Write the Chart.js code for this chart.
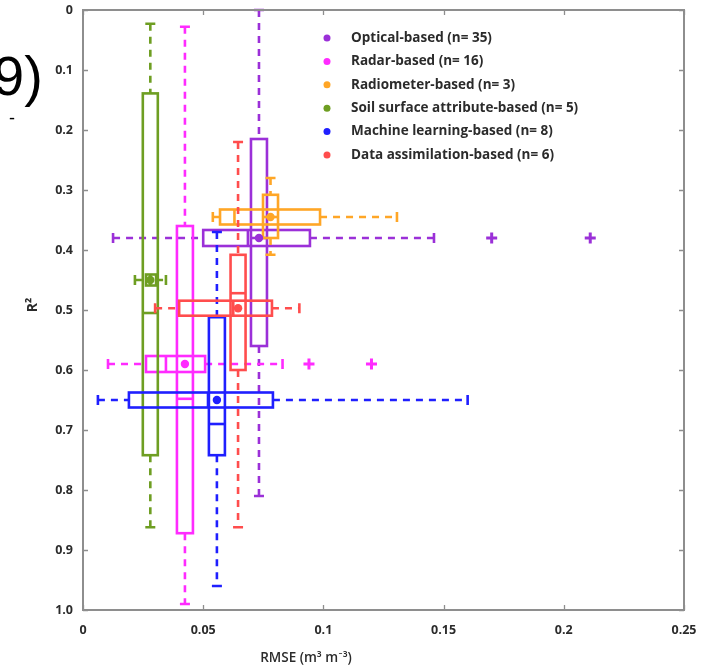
<!DOCTYPE html>
<html>
<head>
<meta charset="utf-8">
<script src="https://cdn.jsdelivr.net/npm/chart.js@4.4.1/dist/chart.umd.min.js"></script>
<style>
  html, body { margin: 0; padding: 0; background: #ffffff; }
  #wrap { position: relative; width: 703px; height: 670px; }
  canvas { display: block; }
</style>
</head>
<body>
<div id="wrap"><canvas id="c" width="703" height="670"></canvas></div>
<script>
// ---------- data ----------
const groups = [
  'Optical-based (n= 35)',
  'Radar-based (n= 16)',
  'Radiometer-based (n= 3)',
  'Soil surface attribute-based (n= 5)',
  'Machine learning-based (n= 8)',
  'Data assimilation-based (n= 6)'
];
// RMSE (m3 m-3) statistics per group
const rmseMin  = [0.0125, 0.0104, 0.054, 0.0216, 0.0062, 0.030];
const rmseQ1   = [0.050,  0.0262, 0.057, 0.0262, 0.0191, 0.040];
const rmseMed  = [0.0686, 0.0345, 0.063, 0.0280, 0.052,  0.0625];
const rmseQ3   = [0.0944, 0.0508, 0.0986,0.0304, 0.079,  0.0786];
const rmseMax  = [0.146,  0.083,  0.1306,0.0345, 0.160,  0.090];
const rmseMean = [0.0732, 0.0424, 0.078, 0.028,  0.0557, 0.0645];
// R2 statistics per group
const r2Min  = [0.000, 0.028, 0.280, 0.023, 0.370, 0.220];
const r2Q1   = [0.215, 0.360, 0.308, 0.139, 0.512, 0.408];
const r2Med  = [0.380, 0.648, 0.345, 0.505, 0.690, 0.472];
const r2Q3   = [0.560, 0.872, 0.380, 0.742, 0.742, 0.600];
const r2Max  = [0.810, 0.990, 0.408, 0.862, 0.960, 0.862];
const r2Mean = [0.380, 0.590, 0.345, 0.450, 0.650, 0.497];
// RMSE outliers per group
const rmseOutliers = [[0.170, 0.211], [0.094, 0.120], [], [], [], []];
// tick values and labels
const xTickValues = [0, 0.05, 0.1, 0.15, 0.2, 0.25];
const xTickLabels = ['0', '0.05', '0.1', '0.15', '0.2', '0.25'];
const yTickValues = [0, 0.1, 0.2, 0.3, 0.4, 0.5, 0.6, 0.7, 0.8, 0.9, 1.0];
const yTickLabels = ['0', '0.1', '0.2', '0.3', '0.4', '0.5', '0.6', '0.7', '0.8', '0.9', '1.0'];

// ---------- styles ----------
const colors = ['#9b30d8', '#ff2bff', '#ffa626', '#6e9e22', '#1f1fff', '#ff4d4d'];
const hBoxHalf = [8, 8, 7.5, 5.5, 7.5, 7.5];   // half height of horizontal boxes (px)
const vBoxHalf = [8, 8, 7.5, 7.5, 8, 7.5];     // half width of vertical boxes (px)
const TEXT = '#2b2b2b';
const AXIS = '#8e8e8e';
const FONT = '"Open Sans", Lato, sans-serif';

const labelFor = (vals, labels, v) => {
  let best = 0;
  vals.forEach((t, k) => { if (Math.abs(t - v) < Math.abs(vals[best] - v)) best = k; });
  return labels[best];
};

const datasets = [];
groups.forEach((g, i) => {
  datasets.push({
    label: g,
    data: [{ x: rmseMean[i], y: r2Mean[i] }],
    pointRadius: 4.2,
    pointBackgroundColor: colors[i],
    pointBorderColor: colors[i],
    pointBorderWidth: 0,
    showLine: false
  });
});
groups.forEach((g, i) => {
  if (!rmseOutliers[i].length) return;
  datasets.push({
    label: g + ' outliers',
    data: rmseOutliers[i].map(v => ({ x: v, y: r2Mean[i] })),
    pointStyle: 'cross',
    pointRadius: 5.5,
    pointBorderColor: colors[i],
    pointBorderWidth: 3,
    showLine: false
  });
});

const boxPlugin = {
  id: 'boxes2d',
  beforeDatasetsDraw(chart) {
    const { ctx, scales: { x, y } } = chart;
    const X = v => x.getPixelForValue(v);
    const Y = v => y.getPixelForValue(v);
    ctx.save();
    ctx.lineWidth = 2.6;
    ctx.lineCap = 'butt';
    groups.forEach((g, i) => {
      ctx.strokeStyle = colors[i];
      const xm = X(rmseMean[i]), ym = Y(r2Mean[i]);
      // dashed whiskers
      ctx.setLineDash([7, 6]);
      ctx.beginPath();
      ctx.moveTo(xm, Y(r2Min[i])); ctx.lineTo(xm, Y(r2Q1[i]));
      ctx.moveTo(xm, Y(r2Q3[i])); ctx.lineTo(xm, Y(r2Max[i]));
      ctx.moveTo(X(rmseMin[i]), ym); ctx.lineTo(X(rmseQ1[i]), ym);
      ctx.moveTo(X(rmseQ3[i]), ym); ctx.lineTo(X(rmseMax[i]), ym);
      ctx.stroke();
      ctx.setLineDash([]);
      // caps
      ctx.beginPath();
      ctx.moveTo(xm - 5, Y(r2Min[i])); ctx.lineTo(xm + 5, Y(r2Min[i]));
      ctx.moveTo(xm - 5, Y(r2Max[i])); ctx.lineTo(xm + 5, Y(r2Max[i]));
      ctx.moveTo(X(rmseMin[i]), ym - 5); ctx.lineTo(X(rmseMin[i]), ym + 5);
      ctx.moveTo(X(rmseMax[i]), ym - 5); ctx.lineTo(X(rmseMax[i]), ym + 5);
      ctx.stroke();
      // vertical box (R2 quartiles)
      const vw = vBoxHalf[i];
      ctx.strokeRect(xm - vw, Y(r2Q1[i]), 2 * vw, Y(r2Q3[i]) - Y(r2Q1[i]));
      ctx.beginPath();
      ctx.moveTo(xm - vw, Y(r2Med[i])); ctx.lineTo(xm + vw, Y(r2Med[i]));
      ctx.stroke();
      // horizontal box (RMSE quartiles)
      const hh = hBoxHalf[i];
      ctx.strokeRect(X(rmseQ1[i]), ym - hh, X(rmseQ3[i]) - X(rmseQ1[i]), 2 * hh);
      ctx.beginPath();
      ctx.moveTo(X(rmseMed[i]), ym - hh); ctx.lineTo(X(rmseMed[i]), ym + hh);
      ctx.stroke();
    });
    ctx.restore();
  },
  afterDraw(chart) {
    const { ctx, scales: { x, y }, chartArea: a } = chart;
    ctx.save();
    // frame
    ctx.strokeStyle = AXIS;
    ctx.lineWidth = 2;
    ctx.strokeRect(a.left, a.top, a.right - a.left, a.bottom - a.top);
    // inward ticks
    ctx.lineWidth = 1.3;
    ctx.beginPath();
    y.ticks.forEach(t => {
      const py = Math.round(y.getPixelForValue(t.value)) + 0.5;
      ctx.moveTo(a.left, py); ctx.lineTo(a.left + 5, py);
      ctx.moveTo(a.right, py); ctx.lineTo(a.right - 5, py);
    });
    x.ticks.forEach(t => {
      const px = Math.round(x.getPixelForValue(t.value)) + 0.5;
      ctx.moveTo(px, a.bottom); ctx.lineTo(px, a.bottom - 5);
      ctx.moveTo(px, a.top); ctx.lineTo(px, a.top + 5);
    });
    ctx.stroke();
    // legend
    ctx.textBaseline = 'middle';
    ctx.textAlign = 'left';
    ctx.font = 'bold 13.5px ' + FONT;
    groups.forEach((g, i) => {
      const ly = 38 + i * 23.4;
      ctx.fillStyle = colors[i];
      ctx.beginPath();
      ctx.arc(327, ly, 3.5, 0, Math.PI * 2);
      ctx.fill();
      ctx.fillStyle = TEXT;
      ctx.fillText(g, 351, ly);
    });
    // axis titles
    ctx.fillStyle = TEXT;
    ctx.font = '600 13.5px ' + FONT;
    ctx.textAlign = 'center';
    ctx.fillText('RMSE (m\u00B3 m\u207B\u00B3)', 306, 658);
    ctx.save();
    ctx.translate(33, 305);
    ctx.rotate(-Math.PI / 2);
    ctx.font = 'bold 14px ' + FONT;
    ctx.fillText('R\u00B2', 0, 0);
    ctx.restore();
    // cropped neighbouring text in the upper-left corner
    ctx.fillStyle = '#000000';
    ctx.textAlign = 'left';
    ctx.textBaseline = 'alphabetic';
    ctx.font = '56px "Liberation Sans", Arial, sans-serif';
    ctx.fillText('9)', -7, 95);
    ctx.font = '18px "Liberation Sans", Arial, sans-serif';
    ctx.fillText('-', 9, 124);
    ctx.restore();
  }
};

const tickFont = { family: FONT, size: 12.5, weight: 'bold' };

new Chart(document.getElementById('c'), {
  type: 'scatter',
  data: { datasets },
  options: {
    responsive: false,
    animation: false,
    layout: { padding: { top: 10, right: 19, left: 0, bottom: 0 } },
    scales: {
      x: {
        type: 'linear', min: 0, max: 0.25,
        afterFit: s => { s.height = 60; s.paddingLeft = 0; s.paddingRight = 0; },
        grid: { display: false, drawTicks: false },
        border: { display: false },
        ticks: {
          stepSize: 0.05, padding: 13, color: TEXT, font: tickFont, maxRotation: 0,
          callback: v => labelFor(xTickValues, xTickLabels, v)
        }
      },
      y: {
        type: 'linear', reverse: true, min: 0, max: 1,
        afterFit: s => { s.width = 83; s.paddingTop = 0; s.paddingBottom = 0; },
        grid: { display: false, drawTicks: false },
        border: { display: false },
        ticks: {
          stepSize: 0.1, padding: 10, color: TEXT, font: tickFont,
          callback: v => labelFor(yTickValues, yTickLabels, v)
        }
      }
    },
    plugins: { legend: { display: false }, tooltip: { enabled: false } }
  },
  plugins: [boxPlugin]
});
</script>
</body>
</html>
